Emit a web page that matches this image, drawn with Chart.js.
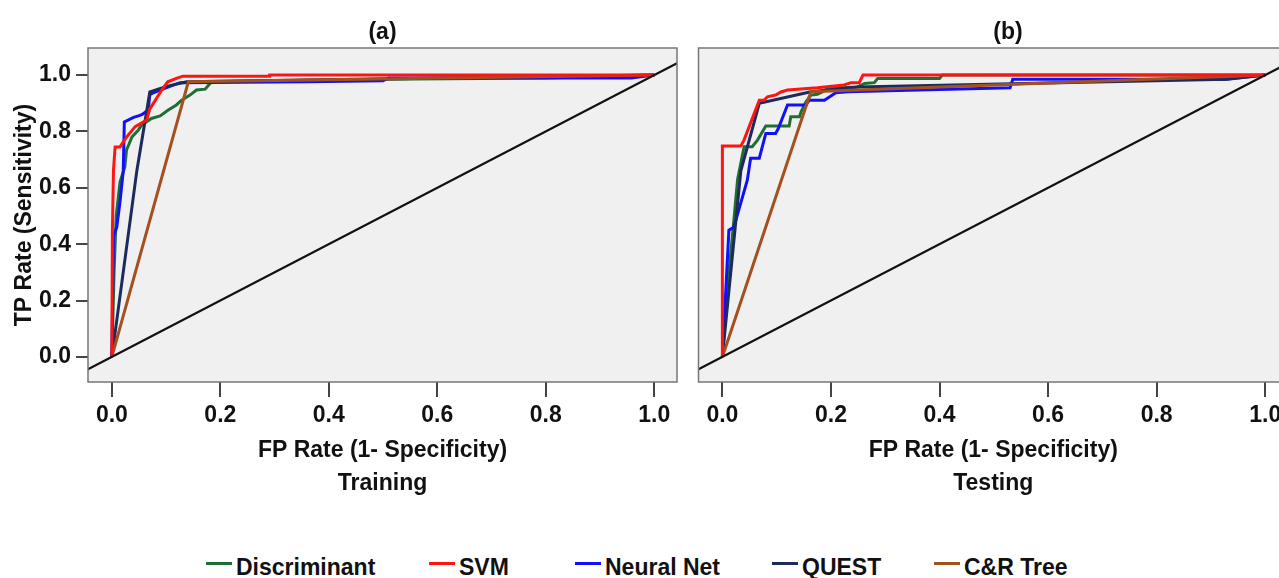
<!DOCTYPE html>
<html><head><meta charset="utf-8">
<script src="https://cdn.jsdelivr.net/npm/chart.js@4/dist/chart.umd.min.js"></script>
<style>
html,body{margin:0;padding:0;background:#fff;overflow:hidden;width:1279px;height:578px;position:relative;}
#c1{position:absolute;left:0;top:0;}
#c2{position:absolute;left:688px;top:0;}
.lt{position:absolute;top:556px;font:bold 23px "Liberation Sans",Arial,sans-serif;color:#111;line-height:23px;white-space:nowrap;}
.mk{position:absolute;top:562px;width:26px;height:3px;}
</style></head><body>
<canvas id="c1" width="688" height="530"></canvas>
<canvas id="c2" width="640" height="530"></canvas>
<div id="legend"></div>
<script>
// ---------- data ----------
const tickValues = [0, 0.2, 0.4, 0.6, 0.8, 1.0];
const seriesNames = ["Discriminant", "SVM", "Neural Net", "QUEST", "C&R Tree"];
const seriesColors = ["#1f6f35", "#ff1414", "#1010ff", "#1c2a5c", "#a4501f"];
const panelTitles = ["(a)", "(b)"];
const xTitleMain = "FP Rate (1- Specificity)";
const xSubTitles = ["Training", "Testing"];
const yTitle = "TP Rate (Sensitivity)";
const diagX = [-0.1, 1.2];
const diagY = [-0.1, 1.2];

// (a) Training
const aDiscX = [0, 0.004, 0.008, 0.015, 0.024, 0.027, 0.037, 0.049, 0.055, 0.073, 0.089, 0.104, 0.119, 0.128, 0.144, 0.156, 0.172, 0.181, 0.187, 0.3, 0.5, 0.8, 1.0];
const aDiscY = [0, 0.3, 0.5, 0.62, 0.675, 0.734, 0.78, 0.805, 0.823, 0.846, 0.855, 0.876, 0.894, 0.91, 0.929, 0.947, 0.95, 0.97, 0.976, 0.98, 0.985, 0.99, 1.0];
const aSvmX = [0, 0.001, 0.003, 0.006, 0.015, 0.027, 0.043, 0.064, 0.07, 0.08, 0.092, 0.103, 0.119, 0.131, 0.29, 0.291, 1.0];
const aSvmY = [0, 0.45, 0.663, 0.745, 0.745, 0.78, 0.817, 0.84, 0.88, 0.91, 0.947, 0.976, 0.988, 0.996, 0.996, 1.0, 1.0];
const aNnX = [0, 0.002, 0.003, 0.009, 0.015, 0.021, 0.023, 0.04, 0.049, 0.056, 0.067, 0.07, 0.074, 0.089, 0.107, 0.126, 0.36, 0.5, 0.51, 0.958, 1.0];
const aNnY = [0, 0.3, 0.43, 0.46, 0.55, 0.66, 0.834, 0.85, 0.855, 0.86, 0.876, 0.93, 0.935, 0.947, 0.96, 0.973, 0.976, 0.98, 0.99, 0.99, 1.0];
const aQuestX = [0, 0.046, 0.07, 0.101, 0.138, 1.0];
const aQuestY = [0, 0.66, 0.94, 0.96, 0.976, 1.0];
const aCartX = [0, 0.141, 1.0];
const aCartY = [0, 0.976, 1.0];

// (b) Testing
const bDiscX = [0, 0.012, 0.02, 0.028, 0.04, 0.055, 0.065, 0.08, 0.123, 0.126, 0.142, 0.145, 0.154, 0.163, 0.175, 0.185, 0.194, 0.22, 0.249, 0.262, 0.28, 0.286, 0.4, 0.405, 1.0];
const bDiscY = [0, 0.3, 0.46, 0.63, 0.746, 0.746, 0.77, 0.819, 0.819, 0.852, 0.852, 0.87, 0.905, 0.929, 0.932, 0.941, 0.953, 0.955, 0.958, 0.97, 0.973, 0.988, 0.988, 1.0, 1.0];
const bSvmX = [0, 0, 0.034, 0.04, 0.068, 0.077, 0.083, 0.098, 0.108, 0.12, 0.175, 0.224, 0.237, 0.252, 0.259, 1.0];
const bSvmY = [0, 0.748, 0.748, 0.77, 0.911, 0.911, 0.923, 0.929, 0.94, 0.947, 0.955, 0.965, 0.973, 0.973, 1.0, 1.0];
const bNnX = [0, 0.012, 0.021, 0.03, 0.046, 0.052, 0.068, 0.08, 0.098, 0.103, 0.12, 0.154, 0.16, 0.188, 0.209, 0.231, 0.53, 0.535, 0.926, 1.0];
const bNnY = [0, 0.45, 0.46, 0.52, 0.628, 0.705, 0.705, 0.793, 0.793, 0.81, 0.894, 0.894, 0.911, 0.911, 0.937, 0.941, 0.955, 0.985, 0.985, 1.0];
const bQuestX = [0, 0.034, 0.068, 0.163, 0.249, 0.93, 1.0];
const bQuestY = [0, 0.66, 0.9, 0.941, 0.958, 0.985, 1.0];
const bCartX = [0, 0.163, 1.0];
const bCartY = [0, 0.941, 1.0];

// ---------- helpers ----------
Chart.defaults.font.family = '"Liberation Sans", Arial, sans-serif';
Chart.defaults.font.weight = 'bold';
Chart.defaults.color = '#111';

const FONT = 23;
const X_MIN = -0.044, X_MAX = 1.042, Y_MIN = -0.089, Y_MAX = 1.096;

function pts(xs, ys) { return xs.map((x, i) => ({ x: x, y: ys[i] })); }
function curve(i, xs, ys, order) {
  return { label: seriesNames[i], data: pts(xs, ys), borderColor: seriesColors[i], backgroundColor: seriesColors[i],
    borderWidth: 3, pointRadius: 0, showLine: true, tension: 0, fill: false, order: order };
}
function diag() {
  return { label: 'ref', data: pts(diagX, diagY), borderColor: '#111', borderWidth: 2.2, pointRadius: 0,
    showLine: true, tension: 0, fill: false, order: 0, clip: 0 };
}

const panelPlugin = {
  id: 'panelBg',
  beforeDraw(chart) {
    const { ctx, chartArea: a } = chart;
    ctx.save(); ctx.fillStyle = '#f0f0f0';
    ctx.fillRect(a.left, a.top, a.right - a.left, a.bottom - a.top); ctx.restore();
  },
  afterDraw(chart) {
    const { ctx, chartArea: a } = chart;
    ctx.save(); ctx.strokeStyle = '#777'; ctx.lineWidth = 1.5;
    ctx.strokeRect(a.left, a.top, a.right - a.left, a.bottom - a.top); ctx.restore();
  }
};

function xScale(sub) {
  return {
    type: 'linear', min: X_MIN, max: X_MAX,
    afterBuildTicks: s => { s.ticks = tickValues.map(v => ({ value: v })); },
    afterFit: s => { s.height = 530 - 382; },
    ticks: { font: { size: FONT, weight: 'bold' }, color: '#111', padding: 5, maxRotation: 0,
      callback: v => Number(v).toFixed(1) },
    grid: { display: true, drawOnChartArea: false, drawTicks: true, tickLength: 15, color: '#444', lineWidth: 2 },
    border: { display: false },
    title: { display: true, text: [xTitleMain, sub], font: { size: FONT, weight: 'bold', lineHeight: '33px' },
      color: '#111', padding: { top: 0, bottom: 29.5 } }
  };
}

function commonPlugins(title, fullSize) {
  return {
    legend: { display: false }, tooltip: { enabled: false },
    title: { display: true, text: title, fullSize: fullSize, font: { size: FONT, weight: 'bold' }, color: '#111',
      padding: { top: 19, bottom: 1.4 } }
  };
}

// ---------- chart (a) ----------
new Chart(document.getElementById('c1'), {
  type: 'scatter',
  data: { datasets: [
    diag(),
    curve(1, aSvmX, aSvmY, 1),
    curve(4, aCartX, aCartY, 2),
    curve(3, aQuestX, aQuestY, 3),
    curve(2, aNnX, aNnY, 4),
    curve(0, aDiscX, aDiscY, 5)
  ] },
  options: {
    responsive: false, animation: false, devicePixelRatio: 1,
    layout: { padding: { left: 0, right: 11, top: 0, bottom: 0 } },
    plugins: commonPlugins(panelTitles[0], false),
    scales: {
      x: xScale(xSubTitles[0]),
      y: {
        type: 'linear', min: Y_MIN, max: Y_MAX,
        afterBuildTicks: s => { s.ticks = tickValues.map(v => ({ value: v })); },
        afterFit: s => { s.width = 88; },
        ticks: { font: { size: FONT, weight: 'bold' }, color: '#111', padding: 5,
          callback: v => Number(v).toFixed(1) },
        grid: { display: true, drawOnChartArea: false, drawTicks: true, tickLength: 12, color: '#444', lineWidth: 2 },
        border: { display: false },
        title: { display: true, text: yTitle, font: { size: FONT, weight: 'bold' }, color: '#111', padding: { top: 11, bottom: 0 } }
      }
    }
  },
  plugins: [panelPlugin]
});

// ---------- chart (b) ----------
new Chart(document.getElementById('c2'), {
  type: 'scatter',
  data: { datasets: [
    diag(),
    curve(1, bSvmX, bSvmY, 1),
    curve(4, bCartX, bCartY, 2),
    curve(3, bQuestX, bQuestY, 3),
    curve(2, bNnX, bNnY, 4),
    curve(0, bDiscX, bDiscY, 5)
  ] },
  options: {
    responsive: false, animation: false, devicePixelRatio: 1,
    layout: { padding: { left: 0, right: 0, top: 0, bottom: 0 } },
    plugins: commonPlugins(panelTitles[1], true),
    scales: {
      x: xScale(xSubTitles[1]),
      y: {
        type: 'linear', min: Y_MIN, max: Y_MAX, display: true,
        afterFit: s => { s.width = 10.5; },
        ticks: { display: false }, grid: { display: false }, border: { display: false }
      },
      yr: {
        type: 'linear', position: 'right', display: true, min: 0, max: 1,
        afterFit: s => { s.width = 40; },
        ticks: { display: false }, grid: { display: false }, border: { display: false }
      }
    }
  },
  plugins: [panelPlugin]
});

// ---------- legend ----------
const legendMarkX = [206, 429, 575, 772, 934];
const legend = document.getElementById('legend');
seriesNames.forEach((name, i) => {
  const m = document.createElement('div');
  m.className = 'mk'; m.style.left = legendMarkX[i] + 'px'; m.style.background = seriesColors[i];
  legend.appendChild(m);
  const t = document.createElement('div');
  t.className = 'lt'; t.style.left = (legendMarkX[i] + 30) + 'px'; t.textContent = name;
  legend.appendChild(t);
});
</script>
</body></html>
